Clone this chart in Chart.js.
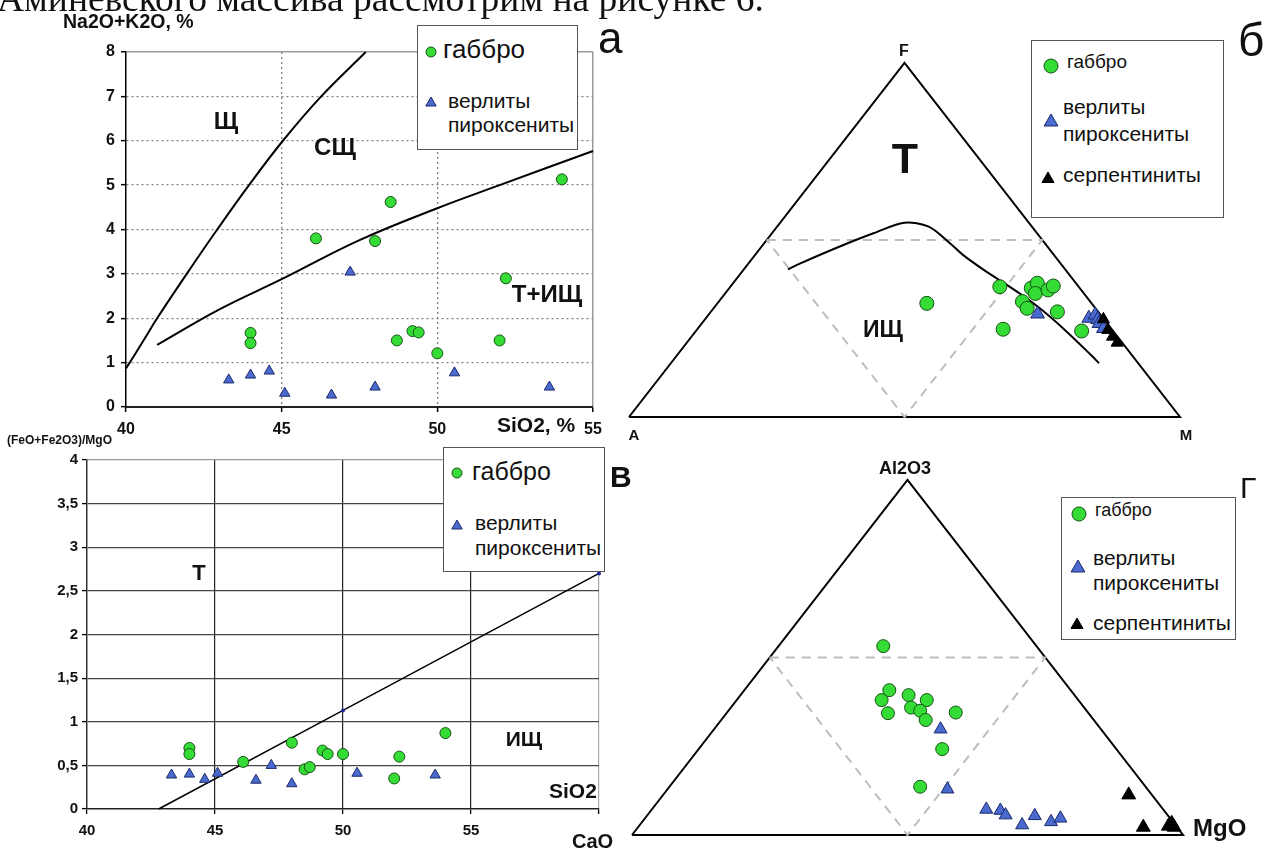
<!DOCTYPE html>
<html>
<head>
<meta charset="utf-8">
<script src="https://cdn.jsdelivr.net/npm/chart.js@4.4.0/dist/chart.umd.min.js"></script>
<style>
html, body { margin: 0; padding: 0; background: #fff; }
body { width: 1269px; height: 850px; position: relative; overflow: hidden; font-family: "Liberation Sans", Arial, sans-serif; }
canvas { position: absolute; }
.t { position: absolute; white-space: nowrap; color: #111; line-height: 1; }
.box { position: absolute; border: 1.5px solid #555; background: #fff; box-sizing: border-box; }
svg.m { position: absolute; overflow: visible; }
</style>
</head>
<body>
<canvas id="chartA" width="640" height="440" style="left:0;top:0"></canvas>
<canvas id="chartB" width="669" height="440" style="left:600px;top:0"></canvas>
<canvas id="chartV" width="640" height="410" style="left:0;top:440px"></canvas>
<canvas id="chartG" width="669" height="410" style="left:600px;top:440px"></canvas>
<div id="overlay"></div>

<script>
// --- а: SiO2 vs Na2O+K2O ---
const gabbroSiO2 = [44.0, 44.0, 46.1, 48.0, 48.5, 48.7, 49.2, 49.4, 50.0, 52.0, 52.2, 54.0];
const gabbroAlk = [1.67, 1.44, 3.8, 3.74, 4.62, 1.5, 1.71, 1.68, 1.21, 1.5, 2.9, 5.13];
const verliteSiO2 = [43.3, 44.0, 44.6, 45.1, 46.6, 47.2, 48.0, 50.55, 53.6];
const verliteAlk = [0.61, 0.72, 0.81, 0.31, 0.27, 3.04, 0.45, 0.77, 0.45];
const border1SiO2 = [40, 40.3, 40.65, 41, 41.95, 42.93, 43.95, 45.04, 46.27, 47.7];
const border1Alk = [0.87, 1.2, 1.6, 2.0, 3.0, 4.0, 5.0, 6.0, 7.0, 8.0];
const border2SiO2 = [41, 43, 45, 47.5, 50, 52, 55];
const border2Alk = [1.4, 2.2, 2.88, 3.76, 4.48, 5.0, 5.77];

// --- в: SiO2 vs (FeO+Fe2O3)/MgO ---
const gabbroFeMg = [0.70, 0.63, 0.54, 0.76, 0.455, 0.48, 0.67, 0.63, 0.63, 0.35, 0.60, 0.87];
const verliteFeMg = [0.39, 0.40, 0.34, 0.41, 0.33, 0.50, 0.29, 0.41, 0.39];
const ratioLineSiO2 = [42.8, 50, 60];
const ratioLineVal = [0, 1.13, 2.7];

// --- б: AFM (F on top, M right), percent ---
const afmGabbroF = [32.1, 36.8, 24.8, 32.6, 30.7, 36.4, 37.8, 34.9, 35.9, 37.0, 29.7, 24.3];
const afmGabbroM = [38.0, 48.9, 55.5, 55.1, 56.9, 54.8, 55.2, 56.3, 58.1, 58.5, 62.9, 70.0];
const afmVerliteF = [29.1, 27.9, 28.8, 27.5, 26.4, 25.0];
const afmVerliteM = [59.6, 69.5, 70.2, 71.3, 72.1, 73.6];
const afmSerpF = [27.6, 24.6, 22.7, 21.0];
const afmSerpM = [72.3, 74.6, 76.4, 78.1];
const afmCurveF = [41.7, 43.4, 48.1, 51.9, 54.9, 53.8, 49.1, 45.8, 41.5, 35.9, 30.7, 24.6, 17.5, 15.2];
const afmCurveM = [8.0, 9.4, 14.1, 18.4, 22.5, 27.5, 33.7, 37.7, 43.7, 52.0, 59.2, 66.8, 75.1, 77.7];

// --- г: Al2O3 (top) - CaO - MgO (right), percent ---
const acmGabbroAl = [53.2, 40.8, 38.0, 34.3, 39.4, 38.0, 35.9, 35.0, 32.4, 34.5, 24.2, 13.6];
const acmGabbroMg = [19.0, 26.3, 26.3, 29.3, 30.5, 34.5, 32.7, 34.8, 37.1, 41.5, 44.2, 45.5];
const acmVerliteAl = [29.8, 12.9, 7.2, 6.9, 5.6, 2.8, 5.4, 3.7, 4.7];
const acmVerliteMg = [41.1, 50.8, 60.7, 63.4, 65.0, 69.4, 70.4, 74.2, 75.4];
const acmSerpAl = [11.3, 2.2, 2.5, 2.2, 3.3];
const acmSerpMg = [84.5, 91.7, 96.1, 97.3, 96.3];

// triangle outline and the inner dashed triangle (top / right components)
const frameTop = [0, 100, 0, 0];
const frameRight = [0, 0, 100, 0];
const innerTop = [50, 50, 0, 50];
const innerRight = [0, 50, 50, 0];

const FONT = '"Liberation Sans", Arial, sans-serif';
const GREEN = '#36dc36', GREEN_EDGE = '#145214';
const BLUE = '#4a6ad0', BLUE_EDGE = '#1b2a6b';

function pts(xs, ys) { return xs.map((x, i) => ({ x: x, y: ys[i] })); }
function ternPts(tops, rights) {
    return tops.map((t, i) => ({ x: rights[i] / 100 + t / 200, y: t / 100 }));
}
function dots(data, style, r, fill, edge) {
    return { data: data, showLine: false, pointStyle: style, pointRadius: r,
        pointBackgroundColor: fill, pointBorderColor: edge, pointBorderWidth: 1, clip: false };
}
function line(data, color, width, dash, tension) {
    return { data: data, showLine: true, borderColor: color, borderWidth: width,
        borderDash: dash || [], pointRadius: 0, tension: tension || 0, fill: false, clip: false };
}

const base = {
    responsive: false, animation: false, events: [],
    plugins: { legend: { display: false }, tooltip: { enabled: false } }
};
const tickFont = size => ({ family: FONT, size: size, weight: 'bold' });

// а
new Chart(document.getElementById('chartA'), {
    type: 'scatter',
    data: { datasets: [
        dots(pts(gabbroSiO2, gabbroAlk), 'circle', 5.5, GREEN, GREEN_EDGE),
        dots(pts(verliteSiO2, verliteAlk), 'triangle', 6, BLUE, BLUE_EDGE),
        line(pts(border1SiO2, border1Alk), '#000', 2, [], 0.4),
        line(pts(border2SiO2, border2Alk), '#000', 2, [], 0.4)
    ] },
    options: Object.assign({}, base, {
        layout: { padding: { top: 52, right: 47, bottom: 0, left: 0 } },
        scales: {
            x: {
                type: 'linear', min: 40, max: 55,
                afterFit: s => { s.height = 33; },
                ticks: { stepSize: 5, padding: 8, color: '#111', font: tickFont(16), maxRotation: 0 },
                grid: {
                    color: c => c.tick.value === 40 ? 'rgba(0,0,0,0)' : (c.tick.value === 55 ? '#9a9a9a' : '#808080'),
                    lineWidth: c => c.tick.value === 55 ? 1.5 : 1.3,
                    tickColor: '#000', tickLength: 5, tickWidth: 1.5
                },
                border: { color: '#222', width: 2,
                    dash: c => (c.tick && c.tick.value > 40 && c.tick.value < 55) ? [2, 3] : [] }
            },
            y: {
                min: 0, max: 8,
                afterFit: s => { s.width = 126; },
                ticks: { stepSize: 1, padding: 6, color: '#111', font: tickFont(16) },
                grid: {
                    color: c => c.tick.value === 0 ? 'rgba(0,0,0,0)' : (c.tick.value === 8 ? '#9a9a9a' : '#808080'),
                    lineWidth: c => c.tick.value === 8 ? 1.5 : 1.3,
                    tickColor: '#000', tickLength: 5, tickWidth: 1.5
                },
                border: { color: '#000', width: 1.5,
                    dash: c => (c.tick && c.tick.value > 0 && c.tick.value < 8) ? [2, 3] : [] }
            }
        }
    })
});

// в
new Chart(document.getElementById('chartV'), {
    type: 'scatter',
    data: { datasets: [
        dots(pts(gabbroSiO2, gabbroFeMg), 'circle', 5.5, GREEN, GREEN_EDGE),
        dots(pts(verliteSiO2, verliteFeMg), 'triangle', 6, BLUE, BLUE_EDGE),
        Object.assign(line(pts(ratioLineSiO2, ratioLineVal), '#000', 1.5), {
            pointRadius: [0, 2, 2], pointBackgroundColor: '#1c2a9a', pointBorderWidth: 0
        })
    ] },
    options: Object.assign({}, base, {
        layout: { padding: { top: 20, right: 41, bottom: 0, left: 0 } },
        scales: {
            x: {
                type: 'linear', min: 40, max: 60,
                afterFit: s => { s.height = 41; },
                ticks: { stepSize: 5, padding: 8, color: '#111', font: tickFont(15), maxRotation: 0,
                    callback: v => v === 60 ? '' : v },
                grid: {
                    color: c => c.tick.value === 40 ? 'rgba(0,0,0,0)' : (c.tick.value === 60 ? '#aaa' : '#222'),
                    lineWidth: 1.2, tickColor: '#000', tickLength: 5, tickWidth: 1.3
                },
                border: { color: '#222', width: 1.5 }
            },
            y: {
                min: 0, max: 4,
                afterFit: s => { s.width = 87; },
                ticks: { stepSize: 0.5, padding: 4, color: '#111', font: tickFont(15),
                    callback: v => String(v).replace('.', ',') },
                grid: {
                    color: c => c.tick.value === 0 ? 'rgba(0,0,0,0)' : (c.tick.value === 4 ? '#999' : '#444'),
                    lineWidth: 1.2, tickColor: '#000', tickLength: 5, tickWidth: 1.3
                },
                border: { color: '#333', width: 1.5 }
            }
        }
    })
});

// ternary panels share hidden 0..1 axes
const ternScales = {
    x: { type: 'linear', min: 0, max: 1, display: false },
    y: { type: 'linear', min: 0, max: 1, display: false }
};

// б
new Chart(document.getElementById('chartB'), {
    type: 'scatter',
    data: { datasets: [
        dots(ternPts(afmSerpF, afmSerpM), 'triangle', 7, '#000', '#000'),
        dots(ternPts(afmVerliteF, afmVerliteM), 'triangle', 8, BLUE, BLUE_EDGE),
        dots(ternPts(afmGabbroF, afmGabbroM), 'circle', 7, GREEN, GREEN_EDGE),
        line(ternPts(afmCurveF, afmCurveM), '#000', 2, [], 0.3),
        line(ternPts(innerTop, innerRight), '#bdbdbd', 2, [9, 7]),
        line(ternPts(frameTop, frameRight), '#000', 2)
    ] },
    options: Object.assign({}, base, {
        layout: { padding: { top: 63, right: 89, bottom: 23, left: 29 } },
        scales: ternScales
    })
});

// г
new Chart(document.getElementById('chartG'), {
    type: 'scatter',
    data: { datasets: [
        dots(ternPts(acmSerpAl, acmSerpMg), 'triangle', 8, '#000', '#000'),
        dots(ternPts(acmVerliteAl, acmVerliteMg), 'triangle', 7.5, BLUE, BLUE_EDGE),
        dots(ternPts(acmGabbroAl, acmGabbroMg), 'circle', 6.5, GREEN, GREEN_EDGE),
        line(ternPts(innerTop, innerRight), '#bdbdbd', 2, [9, 7]),
        line(ternPts(frameTop, frameRight), '#000', 2)
    ] },
    options: Object.assign({}, base, {
        layout: { padding: { top: 40, right: 86, bottom: 15, left: 32 } },
        scales: ternScales
    })
});

// ---- text, legends ----
const overlay = document.getElementById('overlay');

function txt(s, x, baseline, size, opt) {
    opt = opt || {};
    const el = document.createElement('div');
    el.className = 't';
    el.textContent = s;
    const serif = opt.serif;
    el.style.fontFamily = serif ? '"Liberation Serif", "Times New Roman", serif' : FONT;
    el.style.fontSize = size + 'px';
    el.style.fontWeight = opt.bold ? 'bold' : 'normal';
    el.style.left = x + 'px';
    el.style.top = (baseline - (serif ? 0.8375 : 0.8465) * size) + 'px';
    if (opt.center) el.style.transform = 'translateX(-50%)';
    overlay.appendChild(el);
}

function box(x, y, w, h) {
    const el = document.createElement('div');
    el.className = 'box';
    Object.assign(el.style, { left: x + 'px', top: y + 'px', width: w + 'px', height: h + 'px' });
    overlay.appendChild(el);
}

function marker(kind, cx, cy, r, fill, edge) {
    const ns = 'http://www.w3.org/2000/svg';
    const svg = document.createElementNS(ns, 'svg');
    svg.setAttribute('class', 'm');
    svg.setAttribute('width', 2 * r + 2);
    svg.setAttribute('height', 2 * r + 2);
    svg.style.left = (cx - r - 1) + 'px';
    svg.style.top = (cy - r - 1) + 'px';
    let shape;
    if (kind === 'circle') {
        shape = document.createElementNS(ns, 'circle');
        shape.setAttribute('cx', r + 1); shape.setAttribute('cy', r + 1); shape.setAttribute('r', r);
    } else {
        shape = document.createElementNS(ns, 'polygon');
        const c = r + 1, s = r * Math.sin(Math.PI / 3), h = r * 0.5;
        shape.setAttribute('points', `${c},${c - r} ${c + s},${c + h} ${c - s},${c + h}`);
    }
    shape.setAttribute('fill', fill);
    shape.setAttribute('stroke', edge);
    shape.setAttribute('stroke-width', 1);
    svg.appendChild(shape);
    overlay.appendChild(svg);
}

// running text above the figure
txt('Аминевского массива рассмотрим на рисунке 6.', -3, 11, 37.5, { serif: true });

// а
txt('Na2O+K2O, %', 63, 29, 19.5, { bold: true });
txt('Щ', 226, 129, 24, { bold: true, center: true });
txt('СЩ', 335, 155, 24, { bold: true, center: true });
txt('Т+ИЩ', 547, 302, 24, { bold: true, center: true });
txt('SiO2, %', 497, 432, 21, { bold: true });
box(417, 25, 161, 125);
marker('circle', 431, 52, 5, GREEN, GREEN_EDGE);
txt('габбро', 443, 58, 26);
marker('triangle', 431, 103, 6, BLUE, BLUE_EDGE);
txt('верлиты', 448, 108, 21);
txt('пироксениты', 448, 132, 21);
txt('а', 598, 53, 44);

// б
txt('F', 904, 57, 16, { bold: true, center: true });
txt('A', 634, 440, 15, { bold: true, center: true });
txt('M', 1186, 440, 15, { bold: true, center: true });
txt('Т', 905, 173, 43, { bold: true, center: true });
txt('ИЩ', 883, 337, 23, { bold: true, center: true });
box(1031, 40, 193, 178);
marker('circle', 1051, 66, 7, GREEN, GREEN_EDGE);
txt('габбро', 1067, 68, 19);
marker('triangle', 1051, 122, 8, BLUE, BLUE_EDGE);
txt('верлиты', 1063, 114, 21);
txt('пироксениты', 1063, 141, 21);
marker('triangle', 1048, 179, 7, '#000', '#000');
txt('серпентиниты', 1063, 182, 21);
txt('б', 1238, 56, 46);

// в
txt('(FeO+Fe2O3)/MgO', 7, 444, 12, { bold: true });
txt('Т', 199, 581, 22, { bold: true, center: true });
txt('ИЩ', 524, 746, 21, { bold: true, center: true });
txt('SiO2', 549, 798, 21, { bold: true });
box(443, 447, 162, 125);
marker('circle', 457, 473, 5, GREEN, GREEN_EDGE);
txt('габбро', 472, 480, 25);
marker('triangle', 457, 526, 6, BLUE, BLUE_EDGE);
txt('верлиты', 475, 530, 21);
txt('пироксениты', 475, 555, 21);
txt('В', 610, 487, 30, { bold: true });

// г
txt('Al2O3', 905, 474, 18, { bold: true, center: true });
txt('CaO', 572, 848, 20, { bold: true });
txt('MgO', 1193, 836, 24, { bold: true });
box(1061, 497, 175, 143);
marker('circle', 1079, 514, 7, GREEN, GREEN_EDGE);
txt('габбро', 1095, 516, 18);
marker('triangle', 1078, 568, 8, BLUE, BLUE_EDGE);
txt('верлиты', 1093, 565, 21);
txt('пироксениты', 1093, 590, 21);
marker('triangle', 1077, 625, 7, '#000', '#000');
txt('серпентиниты', 1093, 630, 21);
txt('Г', 1240, 498, 30);
</script>
</body>
</html>
